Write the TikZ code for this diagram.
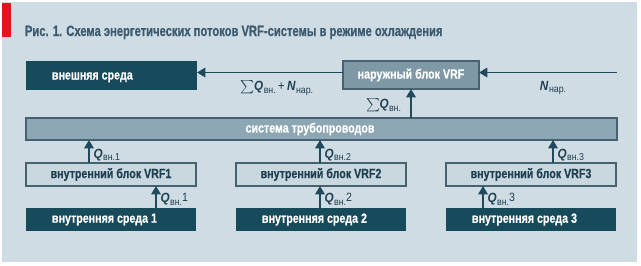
\documentclass[tikz,border=0pt]{standalone}
\usepackage{fontspec}
\setmainfont{Liberation Sans}[FakeStretch=0.84]
\newfontfamily\titlefont{Liberation Sans}[FakeStretch=0.75,FakeBold=0.6]
\newfontfamily\boxfont{Liberation Sans}[FakeStretch=0.8,FakeBold=0.4]
\newfontfamily\labfont{Liberation Sans}[FakeStretch=0.88]
\usetikzlibrary{arrows.meta}
\definecolor{bgc}{HTML}{D0DCE4}
\definecolor{titlec}{HTML}{3B5B70}
\definecolor{redc}{HTML}{E3141B}
\definecolor{darkc}{HTML}{174A5B}
\definecolor{outc}{HTML}{7E98A6}
\definecolor{pipec}{HTML}{8DA6B3}
\definecolor{innerc}{HTML}{C9D7DF}
\definecolor{borderc}{HTML}{46616F}
\definecolor{arrc}{HTML}{1F4A5C}
\definecolor{labc}{HTML}{1F3F52}
\newcommand{\Qv}[1]{\textbf{\textit{Q}}\kern0.3pt{\fontsize{7.5pt}{8pt}\selectfont\raisebox{-2pt}{вн.#1}}}
\newcommand{\Nn}{\textbf{\textit{N}}\kern0.3pt{\fontsize{7.5pt}{8pt}\selectfont\raisebox{-2pt}{нар.}}}
\newcommand{\Ql}[1]{\textbf{\textit{Q}}\kern0.3pt{\fontsize{7.5pt}{8pt}\selectfont\raisebox{-2pt}{вн.}}{\fontsize{9pt}{9pt}\selectfont\raisebox{0.8pt}{#1}}}
\begin{document}
\begin{tikzpicture}[x=0.75pt,y=-0.75pt,
  every node/.style={inner sep=0pt, outer sep=0pt},
  bxf/.style={font=\boxfont\bfseries\fontsize{10pt}{11pt}\selectfont},
  darkbox/.style={fill=darkc},
  wtext/.style={bxf, text=white},
  outbox/.style={fill=outc, draw=borderc, line width=0.8pt, bxf, text=white},
  pipebox/.style={fill=pipec, draw=borderc, line width=0.8pt},
  innerbox/.style={fill=innerc, draw=borderc, line width=0.8pt, bxf, text=labc},
  arr/.style={draw=arrc, line width=1.4pt, -{Triangle[width=7pt,length=6.2pt]}},
  lab/.style={text=labc, font=\labfont\fontsize{10pt}{11pt}\selectfont}
]
\useasboundingbox (0,0) rectangle (641,265);
\fill[white] (0,0) rectangle (641,265);
\fill[bgc] (2,2) rectangle (637,262);
\fill[redc] (2,3) rectangle (11,37);
\node[anchor=base west, text=titlec, font=\titlefont\bfseries\fontsize{11.2pt}{13pt}\selectfont] (title) at (25,36) {Рис. 1. Схема энергетических потоков VRF-системы в режиме охлаждения};

% boxes
\node[darkbox, minimum width=128.25pt, minimum height=21.75pt] (ext) at (111.5,75.5) {};
\node[wtext, anchor=base west] (extt) at (52,79.5) {внешняя среда};
\node[outbox, minimum width=102pt, minimum height=21pt] (out) at (411,75) {наружный блок VRF};
\node[pipebox, minimum width=443.25pt, minimum height=16.5pt] (pipe) at (321.5,129) {};
\node[wtext] (pipet) at (310,129) {система трубопроводов};

\node[innerbox, minimum width=127.5pt, minimum height=17.25pt] (vrf1) at (111,174.5) {внутренний блок VRF1};
\node[innerbox, minimum width=127.5pt, minimum height=17.25pt] (vrf2) at (321,174.5) {внутренний блок VRF2};
\node[innerbox, minimum width=127.5pt, minimum height=17.25pt] (vrf3) at (531,174.5) {внутренний блок VRF3};

\node[darkbox, minimum width=127.5pt, minimum height=17.25pt] (med1) at (111,219.5) {};
\node[darkbox, minimum width=127.5pt, minimum height=17.25pt] (med2) at (321,219.5) {};
\node[darkbox, minimum width=127.5pt, minimum height=17.25pt] (med3) at (531,219.5) {};
\node[wtext, anchor=west] (med1t) at (52,219.5) {внутренняя среда 1};
\node[wtext, anchor=west] (med2t) at (262,219.5) {внутренняя среда 2};
\node[wtext, anchor=west] (med3t) at (472,219.5) {внутренняя среда 3};

% top arrows
\coordinate (nin) at (617,72.5);
\draw[arr] (nin) -- (nin -| out.east);
\draw[arr] (nin -| out.west) -- (nin -| ext.east);
\draw[arr] (pipe.north -| out.south) -- (out.south);

\node[lab, anchor=center] (nlab) at (553,88) {\Nn};
\node[lab, anchor=center] (sumlab) at (277,88) {$\sum$\kern-0.5pt\Qv{}\,{+}\,\Nn};
\node[lab, anchor=east] (sumq) at (401,105) {$\sum$\kern-0.5pt\Qv{}};

% VRF -> pipe
\coordinate (a1) at ([xshift=-16.5pt]vrf1.north);
\coordinate (a2) at ([xshift=-0.75pt]vrf2.north);
\coordinate (a3) at ([xshift=16.5pt]vrf3.north);
\draw[arr] (a1) -- (a1 |- pipe.south);
\draw[arr] (a2) -- (a2 |- pipe.south);
\draw[arr] (a3) -- (a3 |- pipe.south);
\node[lab, anchor=west] (q1u) at ([xshift=3.5pt]a1 |- 0,155) {\Qv{1}};
\node[lab, anchor=west] (q2u) at ([xshift=3.5pt]a2 |- 0,155) {\Qv{2}};
\node[lab, anchor=west] (q3u) at ([xshift=3.5pt]a3 |- 0,155) {\Qv{3}};

% media -> VRF
\coordinate (b1) at ([xshift=33.75pt]med1.north);
\coordinate (b2) at ([xshift=-0.75pt]med2.north);
\coordinate (b3) at ([xshift=-36pt]med3.north);
\draw[arr] (b1) -- (b1 |- vrf1.south);
\draw[arr] (b2) -- (b2 |- vrf2.south);
\draw[arr] (b3) -- (b3 |- vrf3.south);
\node[lab, anchor=west] (q1l) at ([xshift=3.5pt]b1 |- 0,199.5) {\Ql{1}};
\node[lab, anchor=west] (q2l) at ([xshift=3.5pt]b2 |- 0,199.5) {\Ql{2}};
\node[lab, anchor=west] (q3l) at ([xshift=3.5pt]b3 |- 0,199.5) {\Ql{3}};
\end{tikzpicture}
\end{document}
